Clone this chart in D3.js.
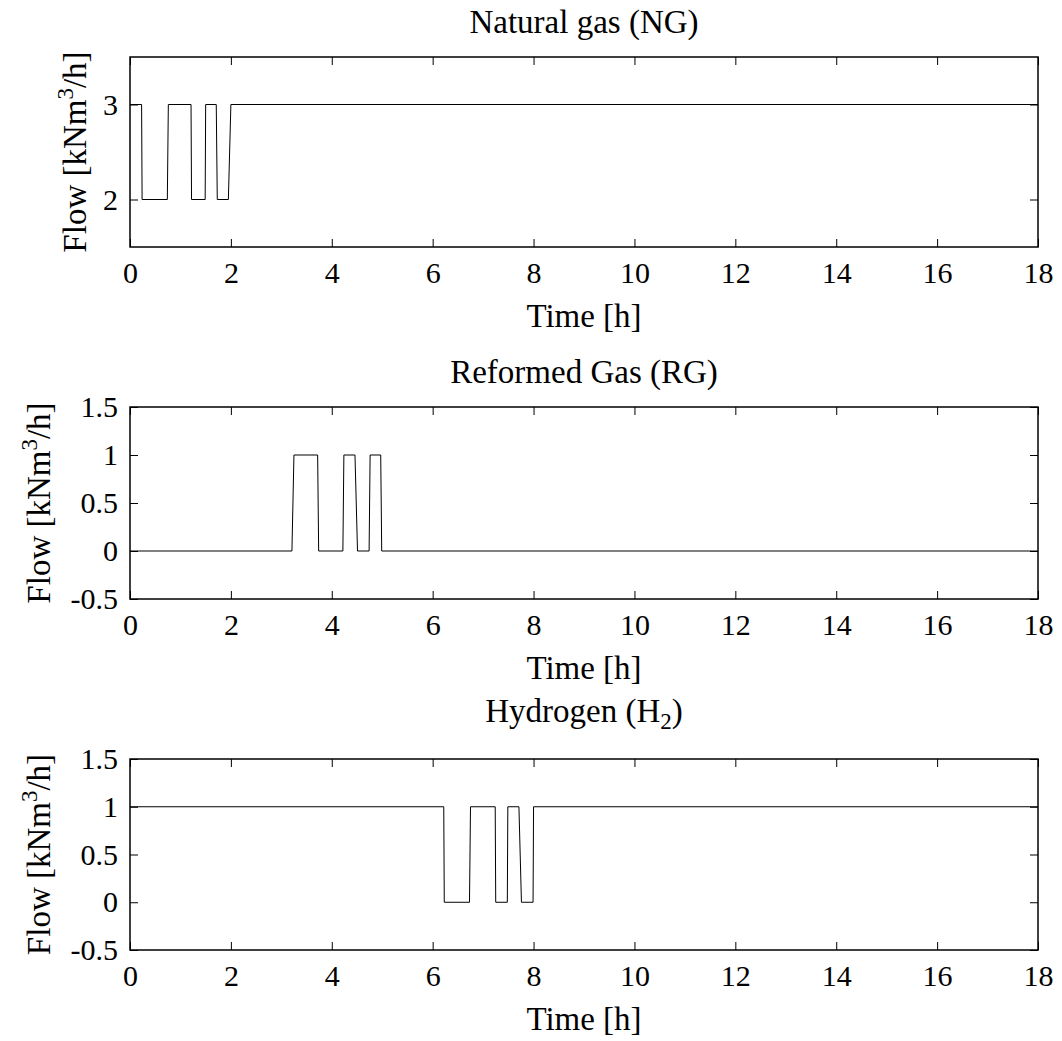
<!DOCTYPE html>
<html>
<head>
<meta charset="utf-8">
<script src="https://cdn.jsdelivr.net/npm/d3@7"></script>
<style>
  body { margin: 0; background: #fff; }
  svg text { font-family: "Liberation Serif", "Times New Roman", serif; fill: #000; }
  .axis path { display: none; }
  .axis line { stroke: #000; stroke-width: 1; }
</style>
</head>
<body>
<div id="chart"></div>
<script>
// time axis shared by all three plots
const timeTicks = [0, 2, 4, 6, 8, 10, 12, 14, 16, 18];

// Natural gas (NG)
const timeNG = [0, 0.23, 0.24, 0.74, 0.76, 1.21, 1.22, 1.49, 1.5, 1.71, 1.73, 1.95, 2.0, 18];
const flowNG = [3, 3, 2, 2, 3, 3, 2, 2, 3, 3, 2, 2, 3, 3];

// Reformed gas (RG)
const timeRG = [0, 3.21, 3.25, 3.72, 3.74, 4.22, 4.24, 4.46, 4.51, 4.74, 4.76, 4.97, 4.99, 18];
const flowRG = [0, 0, 1, 1, 0, 0, 1, 1, 0, 0, 1, 1, 0, 0];

// Hydrogen (H2)
const timeH2 = [0, 6.22, 6.23, 6.73, 6.75, 7.24, 7.25, 7.48, 7.49, 7.71, 7.76, 7.99, 8.0, 18];
const flowH2 = [1, 1, 0, 0, 1, 1, 0, 0, 1, 1, 0, 0, 1, 1];

const ticksNG = [2, 3];
const ticksSmall = [-0.5, 0, 0.5, 1, 1.5];

const panels = [
    {title: "Natural gas (NG)", t: timeNG, v: flowNG, yDom: [1.5, 3.5], yTicks: ticksNG, top: 57, bottom: 247, labelX: 86},
    {title: "Reformed Gas (RG)", t: timeRG, v: flowRG, yDom: [-0.5, 1.5], yTicks: ticksSmall, top: 407, bottom: 599, labelX: 50},
    {title: "Hydrogen (H2)", t: timeH2, v: flowH2, yDom: [-0.5, 1.5], yTicks: ticksSmall, top: 759, bottom: 950, labelX: 50, sub: true}
];

const W = 1062, H = 1041;
const left = 130, right = 1038;
const fs = 30;      // tick labels
const fsL = 33;     // titles and axis labels

const svg = d3.select("#chart").append("svg")
    .attr("width", W).attr("height", H);

const x = d3.scaleLinear().domain([0, 18]).range([left, right]);
const fmt = d => String(d);

panels.forEach(p => {
    const y = d3.scaleLinear().domain(p.yDom).range([p.bottom, p.top]);
    const g = svg.append("g");

    // inward ticks on all four sides
    g.append("g").attr("class", "axis").attr("transform", `translate(0,${p.bottom})`)
        .call(d3.axisBottom(x).tickValues(timeTicks).tickSize(-8).tickPadding(15).tickFormat(fmt))
        .selectAll("text").style("font-size", fs + "px").attr("dy", "0.71em");
    g.append("g").attr("class", "axis").attr("transform", `translate(0,${p.top})`)
        .call(d3.axisTop(x).tickValues(timeTicks).tickSize(-8).tickFormat(""));
    g.append("g").attr("class", "axis").attr("transform", `translate(${left},0)`)
        .call(d3.axisLeft(y).tickValues(p.yTicks).tickSize(-8).tickPadding(12).tickFormat(fmt))
        .selectAll("text").style("font-size", fs + "px");
    g.append("g").attr("class", "axis").attr("transform", `translate(${right},0)`)
        .call(d3.axisRight(y).tickValues(p.yTicks).tickSize(-8).tickFormat(""));

    // frame
    g.append("rect")
        .attr("x", left).attr("y", p.top)
        .attr("width", right - left).attr("height", p.bottom - p.top)
        .attr("fill", "none").attr("stroke", "#000").attr("stroke-width", 1.5);

    // flow line
    const pts = p.t.map((t, i) => [t, p.v[i]]);
    g.append("path")
        .datum(pts)
        .attr("fill", "none")
        .attr("stroke", "#000")
        .attr("stroke-width", 1)
        .attr("d", d3.line().x(d => x(d[0])).y(d => y(d[1])));

    // title
    const cx = (left + right) / 2;
    const title = g.append("text")
        .attr("x", cx).attr("y", p.top - (p.sub ? 37 : 24))
        .attr("text-anchor", "middle")
        .style("font-size", fsL + "px");
    if (p.sub) {
        title.append("tspan").text("Hydrogen (H");
        title.append("tspan").attr("dy", 7).style("font-size", "23px").text("2");
        title.append("tspan").attr("dy", -7).text(")");
    } else {
        title.text(p.title);
    }

    // x label
    g.append("text")
        .attr("x", cx).attr("y", p.bottom + 80)
        .attr("text-anchor", "middle")
        .style("font-size", fsL + "px")
        .text("Time [h]");

    // y label
    const yl = g.append("text")
        .attr("transform", `translate(${p.labelX},${(p.top + p.bottom) / 2}) rotate(-90)`)
        .attr("text-anchor", "middle")
        .style("font-size", fsL + "px");
    yl.append("tspan").text("Flow [kNm");
    yl.append("tspan").attr("dy", -13).style("font-size", "23px").text("3");
    yl.append("tspan").attr("dy", 13).text("/h]");
});
</script>
</body>
</html>
